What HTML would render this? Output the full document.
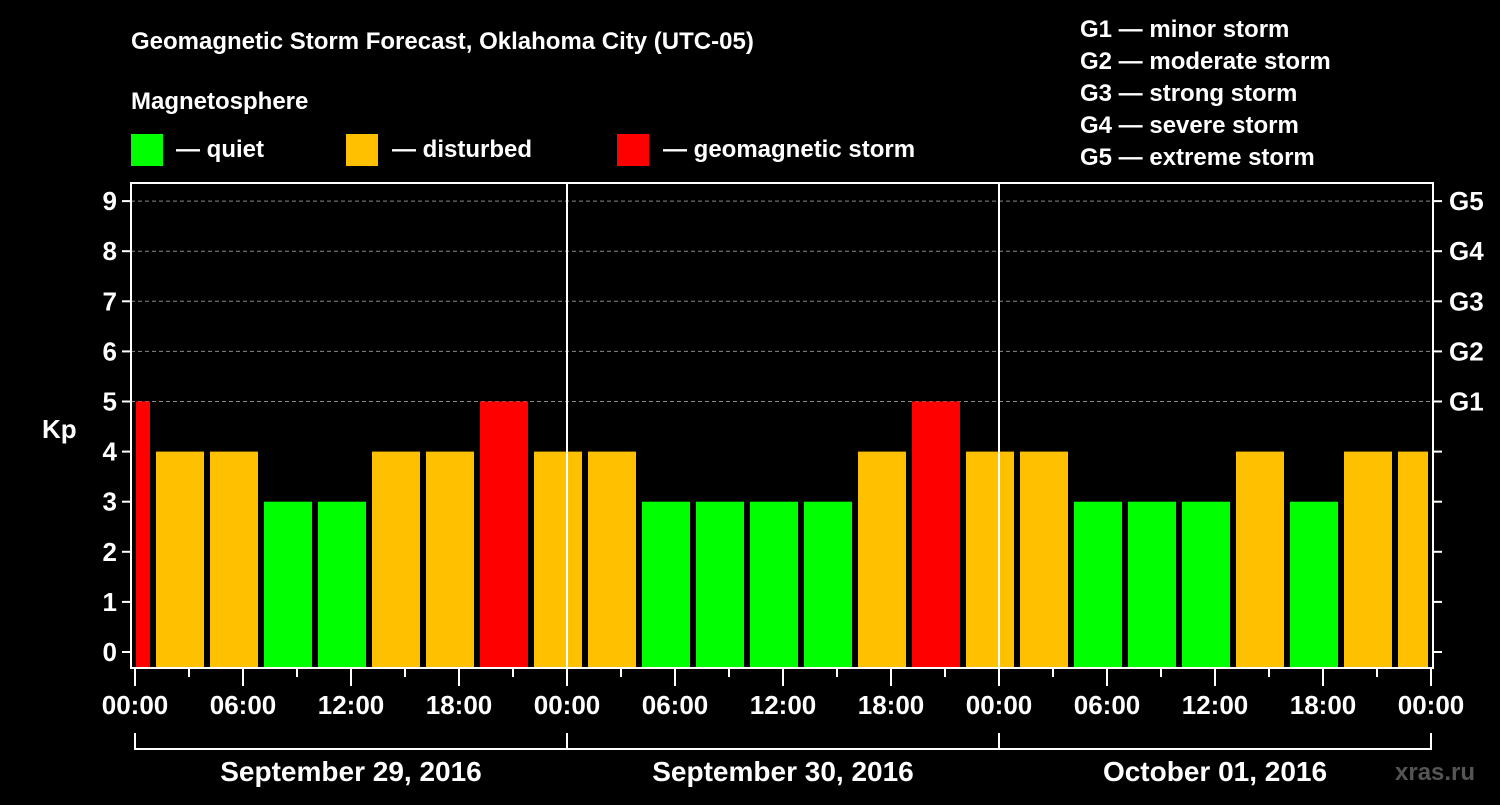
<!DOCTYPE html>
<html><head><meta charset="utf-8"><style>
body{margin:0;background:#000;width:1500px;height:800px;overflow:hidden}
svg text{font-family:"Liberation Sans",Arial,sans-serif;font-weight:bold;fill:#fff}
</style></head><body>
<svg id="chart" width="1500" height="800" xmlns="http://www.w3.org/2000/svg">
<rect width="1500" height="800" fill="#000"/>
<text x="131" y="49" font-size="24">Geomagnetic Storm Forecast, Oklahoma City (UTC-05)</text>
<text x="131" y="109" font-size="24">Magnetosphere</text>
<g><rect x="131" y="134" width="32" height="32" fill="#00ff00"/><text x="176" y="157" font-size="24">— quiet</text></g>
<g><rect x="346" y="134" width="32" height="32" fill="#ffc000"/><text x="392" y="157" font-size="24">— disturbed</text></g>
<g><rect x="617" y="134" width="32" height="32" fill="#ff0000"/><text x="663" y="157" font-size="24">— geomagnetic storm</text></g>
<g font-size="24">
<text x="1080" y="37">G1 — minor storm</text>
<text x="1080" y="69">G2 — moderate storm</text>
<text x="1080" y="101">G3 — strong storm</text>
<text x="1080" y="133">G4 — severe storm</text>
<text x="1080" y="165">G5 — extreme storm</text>
</g>
<g id="grid"></g><g id="bars"></g><g id="axes"></g>
<text x="42" y="438" font-size="26">Kp</text>
<text x="1395" y="780" font-size="24" fill="#555" style="fill:#555">xras.ru</text>
</svg>
<script>
const kpValues=[5,4,4,3,3,4,4,5,4,4,3,3,3,3,4,5,4,4,3,3,3,4,3,4,4];
const startHour=-2, stepHours=3;
const yTicks=[0,1,2,3,4,5,6,7,8,9];
const gLabels=["G1","G2","G3","G4","G5"];
const xLabels=["00:00","06:00","12:00","18:00","00:00","06:00","12:00","18:00","00:00","06:00","12:00","18:00","00:00"];
const dayLabels=["September 29, 2016","September 30, 2016","October 01, 2016"];
const NS="http://www.w3.org/2000/svg";
const X0=135,PXH=18,Y0=652,PXK=50.1,L=131,R=1433,T=183,B=668;
const x=h=>X0+h*PXH, y=k=>Y0-k*PXK;
function el(tag,attrs,parent,txt){const e=document.createElementNS(NS,tag);for(const k in attrs)e.setAttribute(k,attrs[k]);if(txt!==undefined)e.textContent=txt;parent.appendChild(e);return e;}
const grid=document.getElementById('grid'),bars=document.getElementById('bars'),axes=document.getElementById('axes');
for(const k of yTicks){if(k>=5){const l=el('line',{x1:L,x2:R,y1:y(k),y2:y(k),stroke:'#888','stroke-dasharray':'4,3'},grid);

}}
kpValues.forEach((v,i)=>{let h0=startHour+i*stepHours,h1=h0+stepHours;let x0=Math.max(x(h0)+3,L+5),x1=Math.min(x(h1)-3,R-5);
const c=v>=5?'#ff0000':v>=4?'#ffc000':'#00ff00';
const r=el('rect',{x:x0,y:y(v),width:x1-x0,height:y(0)-y(v)+15,fill:c},bars);

});
for(let d=1;d<3;d++){const l=el('line',{x1:x(24*d),x2:x(24*d),y1:T,y2:B,stroke:'#fff','stroke-width':2},axes);

}
const fr=el('rect',{x:L,y:T,width:R-L,height:B-T,fill:'none',stroke:'#fff','stroke-width':2},axes);


for(const k of yTicks){el('line',{x1:L-9,x2:L,y1:y(k),y2:y(k),stroke:'#fff','stroke-width':2},axes);el('line',{x1:R,x2:R+9,y1:y(k),y2:y(k),stroke:'#fff','stroke-width':2},axes);
const t=el('text',{x:L-14,y:y(k)+9,'font-size':26,'text-anchor':'end'},axes,String(k));

}
gLabels.forEach((g,i)=>{const t=el('text',{x:1449,y:y(5+i)+9,'font-size':26},axes,g);

});
for(let h=0;h<=72;h+=3){el('line',{x1:x(h),x2:x(h),y1:B,y2:h%6?677:686,stroke:'#fff','stroke-width':2},axes);}
xLabels.forEach((s,i)=>{const t=el('text',{x:x(i*6),y:714,'font-size':26,'text-anchor':'middle'},axes,s);

});
el('line',{x1:x(0),x2:x(72),y1:749,y2:749,stroke:'#fff','stroke-width':2},axes);
for(let d=0;d<=3;d++)el('line',{x1:x(24*d),x2:x(24*d),y1:733,y2:750,stroke:'#fff','stroke-width':2},axes);
dayLabels.forEach((s,i)=>{const t=el('text',{x:x(24*i+12),y:781,'font-size':28,'text-anchor':'middle'},axes,s);

});
</script>
</body></html>
